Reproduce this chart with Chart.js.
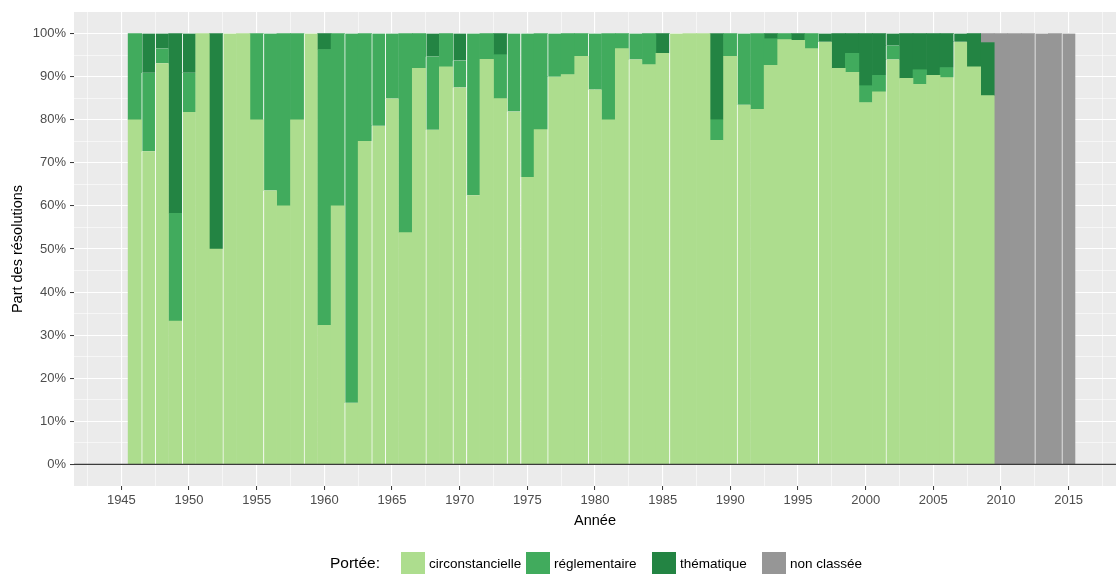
<!DOCTYPE html>
<html><head><meta charset="utf-8">
<script src="https://cdn.jsdelivr.net/npm/chart.js@4.4.1/dist/chart.umd.min.js"></script>
<style>
html,body{margin:0;padding:0;background:#fff;}
#wrap{position:relative;width:1119px;height:574px;overflow:hidden;font-family:"Liberation Sans",Arial,sans-serif;}
canvas{position:absolute;left:0;top:0;}
.lg{position:absolute;font-size:13.5px;color:#000;line-height:22px;white-space:nowrap;top:553px;}
.key{position:absolute;width:24px;height:22px;top:552px;}
</style></head><body>
<div id="wrap">
<canvas id="c" width="1119" height="574"></canvas>
<div class="lg" style="left:330px;font-size:15.5px;top:552px;">Portée:</div>
<div class="key" style="left:401px;background:#ADDD8E"></div><div class="lg" style="left:429px">circonstancielle</div>
<div class="key" style="left:526px;background:#41AB5D"></div><div class="lg" style="left:554px">réglementaire</div>
<div class="key" style="left:652px;background:#238443"></div><div class="lg" style="left:680px">thématique</div>
<div class="key" style="left:762px;background:#969696"></div><div class="lg" style="left:790px">non classée</div>
</div>
<script>
const years = [1946,1947,1948,1949,1950,1951,1952,1953,1954,1955,1956,1957,1958,1959,
1960,1961,1962,1963,1964,1965,1966,1967,1968,1969,1970,1971,1972,1973,1974,1975,1976,1977,1978,1979,
1980,1981,1982,1983,1984,1985,1986,1987,1988,1989,1990,1991,1992,1993,1994,1995,1996,1997,1998,1999,
2000,2001,2002,2003,2004,2005,2006,2007,2008,2009,2010,2011,2012,2013,2014,2015];

const circonstancielle = [80,72.7,93.1,33.3,81.8,100,50,100,100,80,63.6,60,80,100,
32.3,60,14.3,75,78.6,84.9,53.8,91.9,77.7,92.3,87.5,62.5,94,84.9,81.9,66.7,77.7,90,90.5,94.7,
87,80,96.5,94,92.8,95.4,100,100,100,75.2,94.7,83.5,82.4,92.6,98.6,98.4,96.5,98.1,91.9,91,
84,86.5,94,89.6,88.2,90.3,89.8,98.1,92.3,85.6,0,0,0,0,0,0];

const reglementaire = [20,18.2,3.45,25,9.1,0,0,0,0,20,36.4,40,20,0,
64,40,85.7,25,21.4,15.1,46.2,8.1,17,7.7,6.25,37.5,6,10.2,18.1,33.3,22.3,10,9.5,5.3,
13,20,3.5,6,7.2,0,0,0,0,4.8,5.3,16.5,17.6,6.2,1.4,0,3.5,0,0,4.4,
3.9,3.8,3.2,0,3.4,0,2.3,0,0,0,0,0,0,0,0,0];

const thematique = [0,9.1,3.45,41.7,9.1,0,50,0,0,0,0,0,0,0,
3.7,0,0,0,0,0,0,0,5.3,0,6.25,0,0,4.9,0,0,0,0,0,0,
0,0,0,0,0,4.6,0,0,0,20,0,0,0,1.2,0,1.6,0,1.9,8.1,4.6,
12.1,9.7,2.8,10.4,8.4,9.7,7.9,1.9,7.7,12.3,0,0,0,0,0,0];

const nonClassee = [0,0,0,0,0,0,0,0,0,0,0,0,0,0,
0,0,0,0,0,0,0,0,0,0,0,0,0,0,0,0,0,0,0,0,
0,0,0,0,0,0,0,0,0,0,0,0,0,0,0,0,0,0,0,0,
0,0,0,0,0,0,0,0,0,2.1,100,100,100,100,100,100];

const seriesNames = ['circonstancielle','réglementaire','thématique','non classée'];
const xMajorTicks = [1945,1950,1955,1960,1965,1970,1975,1980,1985,1990,1995,2000,2005,2010,2015];
const xTickLabels = ['1945','1950','1955','1960','1965','1970','1975','1980','1985','1990','1995','2000','2005','2010','2015'];
const yMajorTicks = [0,10,20,30,40,50,60,70,80,90,100];
const yTickLabels = ['0%','10%','20%','30%','40%','50%','60%','70%','80%','90%','100%'];

// rendering-only: years whose bar shows a thin white seam on its left edge
const seamYears = [1947,1948,1950,1953,1956,1959,1962,1964,1965,1968,1970,1971,1974,1975,1977,1980,1983,1986,1991,1997,2002,2007,2013,2015];

const colors = ['#ADDD8E','#41AB5D','#238443','#969696'];
const seriesValues = [circonstancielle, reglementaire, thematique, nonClassee];

function withMinors(majors){
  const out = [];
  for (let i = 0; i < majors.length; i++) {
    if (i > 0) out.push((majors[i-1] + majors[i]) / 2);
    out.push(majors[i]);
  }
  return out;
}
const xTicksAll = [xMajorTicks[0] - 2.5].concat(withMinors(xMajorTicks), [xMajorTicks[xMajorTicks.length-1] + 2.5]);
const yTicksAll = withMinors(yMajorTicks);

const datasets = seriesValues.map((vals, k) => ({
  label: seriesNames[k],
  data: years.map((yr, i) => ({x: yr, y: vals[i] === 0 ? null : vals[i]})),
  backgroundColor: colors[k],
  borderColor: 'rgba(255,255,255,0.92)',
  borderWidth: c => seamYears.includes(years[c.dataIndex]) ? {left: 1, right: 0, top: 0, bottom: 0} : 0,
  barPercentage: 1,
  categoryPercentage: 1
}));

const panelBg = {
  id: 'panelBg',
  beforeDraw(ch) {
    const {ctx, chartArea: a} = ch;
    ctx.save();
    ctx.fillStyle = '#EBEBEB';
    ctx.fillRect(a.left, a.top, a.right - a.left, a.bottom - a.top);
    ctx.restore();
  }
};
const zeroLine = {
  id: 'zeroLine',
  afterDatasetsDraw(ch) {
    const {ctx, chartArea: a, scales: {y}} = ch;
    const py = y.getPixelForValue(0);
    ctx.save();
    ctx.strokeStyle = '#3b3b3b';
    ctx.lineWidth = 1.2;
    ctx.beginPath();
    ctx.moveTo(a.left, py);
    ctx.lineTo(a.right, py);
    ctx.stroke();
    ctx.restore();
  }
};

const tickFont = {family: '"Liberation Sans", Arial, sans-serif', size: 13};
const titleFont = {family: '"Liberation Sans", Arial, sans-serif', size: 14.5};

new Chart(document.getElementById('c'), {
  type: 'bar',
  data: {datasets},
  options: {
    responsive: false,
    animation: false,
    devicePixelRatio: 1,
    layout: {padding: {top: 12, right: 3, bottom: 44, left: 0}},
    plugins: {legend: {display: false}, tooltip: {enabled: false}},
    scales: {
      x: {
        type: 'linear', stacked: true, min: 1941.5, max: 2018.5, offset: false,
        border: {display: false},
        grid: {
          offset: false, color: '#FFFFFF',
          lineWidth: c => (c.tick && xMajorTicks.includes(c.tick.value)) ? 1.1 : 0.55,
          tickColor: c => (c.tick && xMajorTicks.includes(c.tick.value)) ? '#333333' : 'rgba(0,0,0,0)',
          tickLength: 4, tickWidth: 1
        },
        afterBuildTicks: s => { s.ticks = xTicksAll.map(v => ({value: v})); },
        afterFit: s => { s.height = 44; },
        ticks: {
          autoSkip: false, maxRotation: 0, minRotation: 0, padding: 3, color: '#4D4D4D', font: tickFont,
          callback: v => { const i = xMajorTicks.indexOf(v); return i >= 0 ? xTickLabels[i] : ''; }
        },
        title: {display: true, text: 'Année', color: '#000', font: titleFont, padding: {top: 0, bottom: 0}}
      },
      y: {
        type: 'linear', stacked: true, min: -5, max: 105,
        border: {display: false},
        grid: {
          color: '#FFFFFF',
          lineWidth: c => (c.tick && yMajorTicks.includes(c.tick.value)) ? 1.1 : 0.55,
          tickColor: c => (c.tick && yMajorTicks.includes(c.tick.value)) ? '#333333' : 'rgba(0,0,0,0)',
          tickLength: 4, tickWidth: 1
        },
        afterBuildTicks: s => { s.ticks = yTicksAll.map(v => ({value: v})); },
        afterFit: s => { s.width = 74; },
        ticks: {
          autoSkip: false, padding: 4, color: '#4D4D4D', font: tickFont,
          callback: v => { const i = yMajorTicks.indexOf(v); return i >= 0 ? yTickLabels[i] : ''; }
        },
        title: {display: true, text: 'Part des résolutions', color: '#000', font: titleFont, padding: {top: 9, bottom: 0}}
      }
    }
  },
  plugins: [panelBg, zeroLine]
});
</script>
</body></html>
